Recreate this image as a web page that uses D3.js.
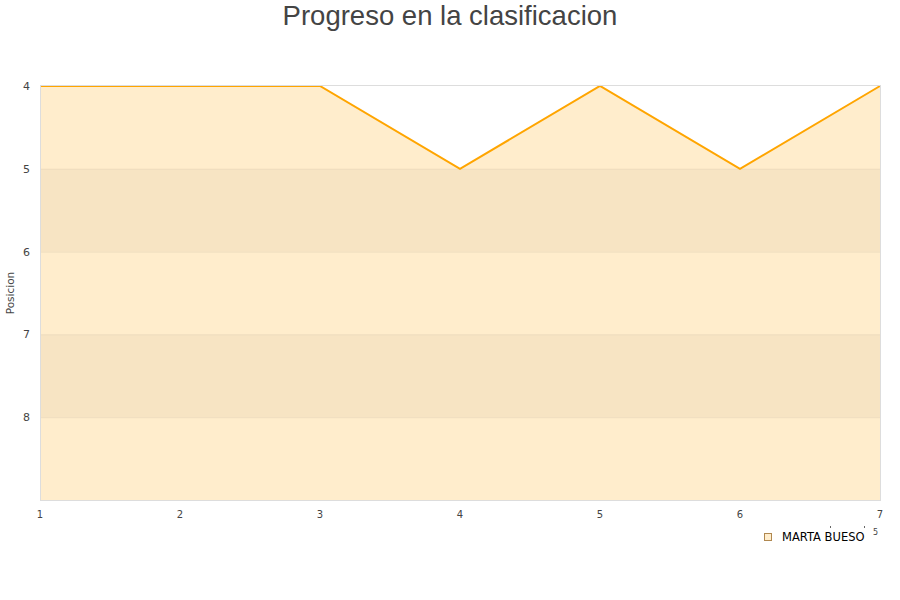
<!DOCTYPE html>
<html><head><meta charset="utf-8">
<script src="https://cdn.jsdelivr.net/npm/d3@7"></script>
<style>body{margin:0;background:#fff}svg{display:block}</style>
</head><body>
<svg id="c" width="900" height="600"></svg>
<script>
const rounds = [1, 2, 3, 4, 5, 6, 7];
const positions = [4, 4, 4, 5, 4, 5, 4];
const yTicks = [4, 5, 6, 7, 8];
const seriesName = "MARTA BUESO";
const title = "Progreso en la clasificacion";
const yLabel = "Posicion";

const svg = d3.select("#c");
const m = {l: 40, r: 20, t: 86, b: 100};
const W = 900, H = 600;
const x = d3.scaleLinear().domain([1, 7]).range([m.l, W - m.r]);
const y = d3.scaleLinear().domain([4, 9]).range([m.t, H - m.b]);

svg.append("text").attr("x", 450).attr("y", 25).attr("text-anchor", "middle")
  .attr("font-family", "Liberation Sans, Arial, sans-serif").attr("font-size", 27.5)
  .attr("fill", "#444").text(title);

const data = rounds.map((r, i) => ({r, p: positions[i]}));
const area = d3.area().x(d => x(d.r)).y0(y(9)).y1(d => y(d.p));
svg.append("path").datum(data).attr("d", area).attr("fill", "#FFEDCC");
const clip = svg.append("clipPath").attr("id", "ac");
clip.append("path").datum(data).attr("d", area);
const bands = [[5, 6], [7, 8]];
svg.append("g").attr("clip-path", "url(#ac)").selectAll("rect").data(bands).join("rect")
  .attr("x", x(1)).attr("width", x(7) - x(1))
  .attr("y", d => y(d[0])).attr("height", d => y(d[1]) - y(d[0]))
  .attr("fill", "#F7E4C3");
svg.append("g").selectAll("line").data([5, 6, 7, 8]).join("line")
  .attr("x1", x(1)).attr("x2", x(7)).attr("y1", d => y(d) + 0.5).attr("y2", d => y(d) + 0.5)
  .attr("stroke", "#EEDDBF").attr("stroke-width", 1);
svg.append("path").datum(data)
  .attr("d", d3.line().x(d => x(d.r)).y(d => y(d.p)))
  .attr("fill", "none").attr("stroke", "#FFA500").attr("stroke-width", 2);
svg.append("rect").attr("x", x(1) + 0.5).attr("y", y(4) - 0.5)
  .attr("width", x(7) - x(1)).attr("height", y(9) - y(4) + 1)
  .attr("fill", "none").attr("stroke", "#DDDDDD");

svg.append("g").selectAll("text").data(yTicks).join("text")
  .attr("x", 30).attr("y", d => y(d) + 4).attr("text-anchor", "end")
  .attr("font-family", "DejaVu Sans, sans-serif").attr("font-size", 11).attr("fill", "#444")
  .text(d => d);
svg.append("g").selectAll("text").data(rounds).join("text")
  .attr("x", d => x(d)).attr("y", 518).attr("text-anchor", "middle")
  .attr("font-family", "DejaVu Sans, sans-serif").attr("font-size", 10).attr("fill", "#444")
  .text(d => d);
svg.append("text").attr("transform", "translate(14,293) rotate(-90)").attr("text-anchor", "middle")
  .attr("font-family", "DejaVu Sans, sans-serif").attr("font-size", 10.5).attr("fill", "#444")
  .text(yLabel);

svg.append("rect").attr("x", 764.5).attr("y", 533.5).attr("width", 7).attr("height", 7)
  .attr("fill", "#FFEDCC").attr("stroke", "#B08850");
svg.append("text").attr("x", 782).attr("y", 541)
  .attr("font-family", "DejaVu Sans, sans-serif").attr("font-size", 11.5).attr("fill", "#000")
  .text(seriesName);
svg.append("text").attr("x", 873).attr("y", 535)
  .attr("font-family", "DejaVu Sans, sans-serif").attr("font-size", 8).attr("fill", "#444").text("5");
svg.append("g").selectAll("rect").data([830, 864]).join("rect")
  .attr("x", d => d).attr("y", 526).attr("width", 1).attr("height", 2).attr("fill", "#666");
</script>
</body></html>
